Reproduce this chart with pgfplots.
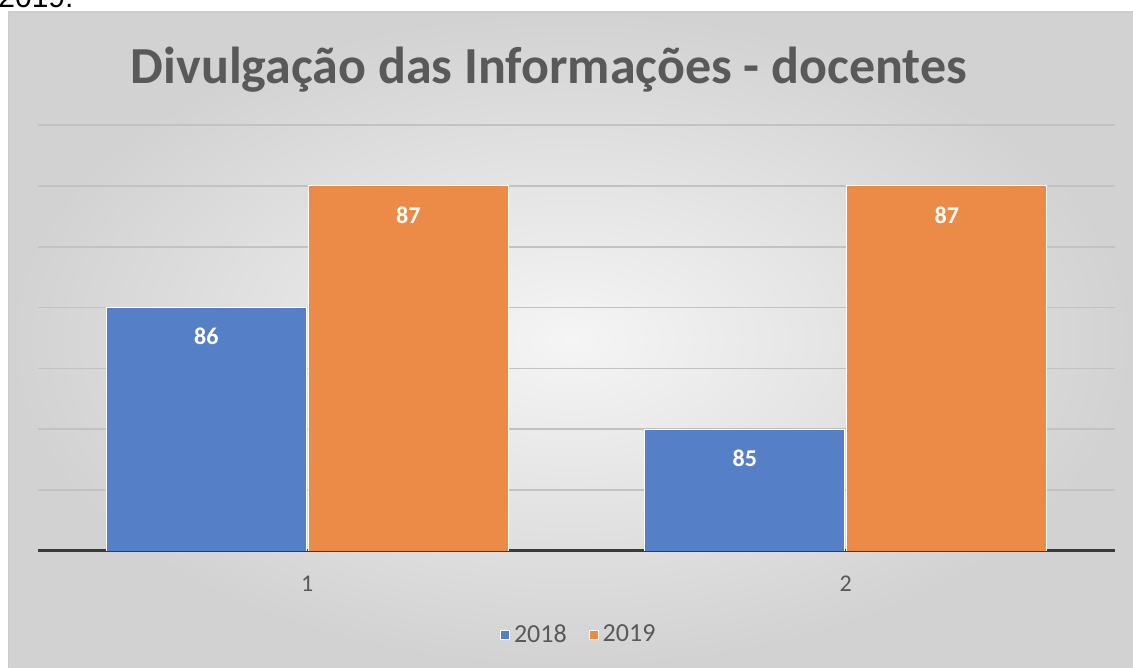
\documentclass[border=0pt]{standalone}
\usepackage{pgfplots}
\pgfplotsset{compat=1.18}
\usepackage{fontspec}
\setmainfont{Carlito}
\newfontfamily\arialf{Liberation Sans}
\definecolor{xblue}{HTML}{5580C8}
\definecolor{xorange}{HTML}{EC8A48}
\definecolor{txt}{HTML}{595959}
\definecolor{bgin}{HTML}{F5F5F5}
\definecolor{bgout}{HTML}{D2D2D2}
\definecolor{gridc}{HTML}{C2C2C2}
\definecolor{basec}{HTML}{3A3A3A}
\begin{document}
\begin{tikzpicture}[x=1pt,y=1pt]
\useasboundingbox (0,0) rectangle (566.5,334);
\fill[white] (0,0) rectangle (566.5,334);
\node[anchor=base west, inner sep=0] at (-1,330) {\arialf\fontsize{15}{18}\selectfont 2019.};
\shade[inner color=bgin, outer color=bgout, draw=gray!40] (4,0) rectangle (567,328);
\node[anchor=base, inner sep=0, text=txt, font=\bfseries\fontsize{26}{31}\selectfont] at (274.5,292) {Divulgação das Informações - docentes};
\begin{axis}[
  at={(19pt,58.5pt)}, anchor=south west,
  scale only axis, width=538.5pt, height=213pt,
  /pgf/number format/assume math mode=true,
  ybar=1pt, bar width=100pt,
  xmin=0.5, xmax=2.5, ymin=84, ymax=87.5,
  xtick={1,2}, ytick={84.5,85,85.5,86,86.5,87,87.5},
  yticklabels={}, major tick length=0pt,
  ymajorgrids, grid style={color=gridc, line width=0.8pt},
  axis x line*=bottom, axis y line*=left,
  x axis line style={-, color=basec, line width=1.5pt},
  y axis line style={draw=none},
  xticklabel style={font=\fontsize{12}{14}\selectfont, text=txt, yshift=-9pt},
  nodes near coords,
  every node near coord/.append style={anchor=center, yshift=-14.5pt, text=white, font=\bfseries\fontsize{12}{14}\selectfont},
  legend style={at={(0.503,-0.197)}, anchor=center, draw=none, fill=none,
    legend columns=2, font=\fontsize{13}{15}\selectfont, text=txt,
    /tikz/every even column/.append style={column sep=9pt}},
  legend image code/.code={\fill[#1] (1pt,-2.3pt) rectangle (5.6pt,2.3pt);},
]
\addplot[fill=xblue, draw=white, line width=0.4pt] coordinates {(1,86) (2,85)};
\addplot[fill=xorange, draw=white, line width=0.4pt] coordinates {(1,87) (2,87)};
\legend{2018,2019}
\end{axis}
\end{tikzpicture}
\end{document}
